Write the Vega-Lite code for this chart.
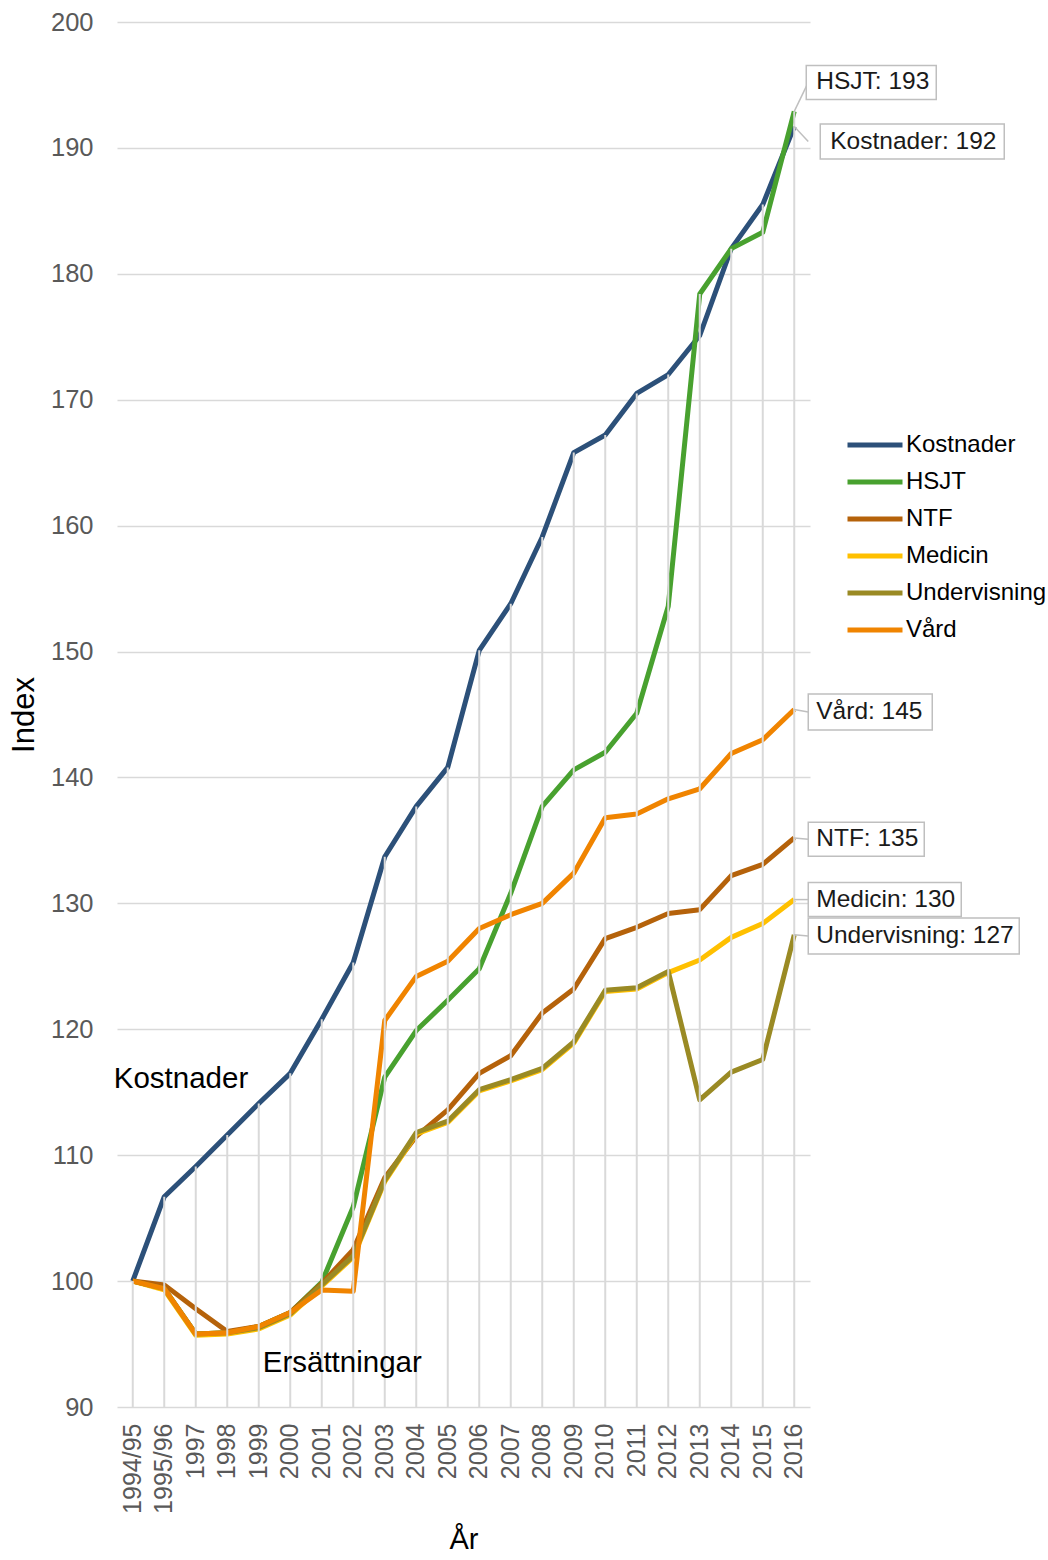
{
  "$schema": "https://vega.github.io/schema/vega-lite/v6.json",
  "width": 693,
  "height": 1385,
  "autosize": {"type": "none"},
  "padding": {"left": 117, "top": 22, "right": 238, "bottom": 153},
  "background": "white",
  "config": {"font": "Liberation Sans", "view": {"stroke": null}},
  "datasets": {
    "series": [
      {"serie": "Kostnader", "year": "1994/95", "value": 100},
      {"serie": "Kostnader", "year": "1995/96", "value": 106.7},
      {"serie": "Kostnader", "year": "1997", "value": 109.1},
      {"serie": "Kostnader", "year": "1998", "value": 111.6},
      {"serie": "Kostnader", "year": "1999", "value": 114.1},
      {"serie": "Kostnader", "year": "2000", "value": 116.5},
      {"serie": "Kostnader", "year": "2001", "value": 120.8},
      {"serie": "Kostnader", "year": "2002", "value": 125.3},
      {"serie": "Kostnader", "year": "2003", "value": 133.7},
      {"serie": "Kostnader", "year": "2004", "value": 137.7},
      {"serie": "Kostnader", "year": "2005", "value": 140.8},
      {"serie": "Kostnader", "year": "2006", "value": 150.1},
      {"serie": "Kostnader", "year": "2007", "value": 153.8},
      {"serie": "Kostnader", "year": "2008", "value": 159.1},
      {"serie": "Kostnader", "year": "2009", "value": 165.8},
      {"serie": "Kostnader", "year": "2010", "value": 167.2},
      {"serie": "Kostnader", "year": "2011", "value": 170.5},
      {"serie": "Kostnader", "year": "2012", "value": 172.0},
      {"serie": "Kostnader", "year": "2013", "value": 175.1},
      {"serie": "Kostnader", "year": "2014", "value": 182.0},
      {"serie": "Kostnader", "year": "2015", "value": 185.5},
      {"serie": "Kostnader", "year": "2016", "value": 191.7},
      {"serie": "HSJT", "year": "1994/95", "value": 100},
      {"serie": "HSJT", "year": "1995/96", "value": 99.4},
      {"serie": "HSJT", "year": "1997", "value": 95.8},
      {"serie": "HSJT", "year": "1998", "value": 95.9},
      {"serie": "HSJT", "year": "1999", "value": 96.4},
      {"serie": "HSJT", "year": "2000", "value": 97.5},
      {"serie": "HSJT", "year": "2001", "value": 99.9},
      {"serie": "HSJT", "year": "2002", "value": 105.9},
      {"serie": "HSJT", "year": "2003", "value": 116.2},
      {"serie": "HSJT", "year": "2004", "value": 119.9},
      {"serie": "HSJT", "year": "2005", "value": 122.3},
      {"serie": "HSJT", "year": "2006", "value": 124.8},
      {"serie": "HSJT", "year": "2007", "value": 130.8},
      {"serie": "HSJT", "year": "2008", "value": 137.7},
      {"serie": "HSJT", "year": "2009", "value": 140.6},
      {"serie": "HSJT", "year": "2010", "value": 142.0},
      {"serie": "HSJT", "year": "2011", "value": 145.1},
      {"serie": "HSJT", "year": "2012", "value": 153.6},
      {"serie": "HSJT", "year": "2013", "value": 178.4},
      {"serie": "HSJT", "year": "2014", "value": 182.0},
      {"serie": "HSJT", "year": "2015", "value": 183.3},
      {"serie": "HSJT", "year": "2016", "value": 192.9},
      {"serie": "NTF", "year": "1994/95", "value": 100},
      {"serie": "NTF", "year": "1995/96", "value": 99.7},
      {"serie": "NTF", "year": "1997", "value": 97.8},
      {"serie": "NTF", "year": "1998", "value": 96.0},
      {"serie": "NTF", "year": "1999", "value": 96.4},
      {"serie": "NTF", "year": "2000", "value": 97.5},
      {"serie": "NTF", "year": "2001", "value": 99.8},
      {"serie": "NTF", "year": "2002", "value": 102.5},
      {"serie": "NTF", "year": "2003", "value": 108.2},
      {"serie": "NTF", "year": "2004", "value": 111.5},
      {"serie": "NTF", "year": "2005", "value": 113.6},
      {"serie": "NTF", "year": "2006", "value": 116.5},
      {"serie": "NTF", "year": "2007", "value": 117.9},
      {"serie": "NTF", "year": "2008", "value": 121.3},
      {"serie": "NTF", "year": "2009", "value": 123.2},
      {"serie": "NTF", "year": "2010", "value": 127.2},
      {"serie": "NTF", "year": "2011", "value": 128.1},
      {"serie": "NTF", "year": "2012", "value": 129.2},
      {"serie": "NTF", "year": "2013", "value": 129.5},
      {"serie": "NTF", "year": "2014", "value": 132.2},
      {"serie": "NTF", "year": "2015", "value": 133.1},
      {"serie": "NTF", "year": "2016", "value": 135.2},
      {"serie": "Medicin", "year": "1994/95", "value": 100},
      {"serie": "Medicin", "year": "1995/96", "value": 99.3},
      {"serie": "Medicin", "year": "1997", "value": 95.7},
      {"serie": "Medicin", "year": "1998", "value": 95.8},
      {"serie": "Medicin", "year": "1999", "value": 96.2},
      {"serie": "Medicin", "year": "2000", "value": 97.3},
      {"serie": "Medicin", "year": "2001", "value": 99.6},
      {"serie": "Medicin", "year": "2002", "value": 101.9},
      {"serie": "Medicin", "year": "2003", "value": 107.9},
      {"serie": "Medicin", "year": "2004", "value": 111.7},
      {"serie": "Medicin", "year": "2005", "value": 112.6},
      {"serie": "Medicin", "year": "2006", "value": 115.1},
      {"serie": "Medicin", "year": "2007", "value": 115.9},
      {"serie": "Medicin", "year": "2008", "value": 116.8},
      {"serie": "Medicin", "year": "2009", "value": 118.9},
      {"serie": "Medicin", "year": "2010", "value": 123.0},
      {"serie": "Medicin", "year": "2011", "value": 123.2},
      {"serie": "Medicin", "year": "2012", "value": 124.5},
      {"serie": "Medicin", "year": "2013", "value": 125.5},
      {"serie": "Medicin", "year": "2014", "value": 127.3},
      {"serie": "Medicin", "year": "2015", "value": 128.4},
      {"serie": "Medicin", "year": "2016", "value": 130.3},
      {"serie": "Undervisning", "year": "1994/95", "value": 100},
      {"serie": "Undervisning", "year": "1995/96", "value": 99.4},
      {"serie": "Undervisning", "year": "1997", "value": 95.8},
      {"serie": "Undervisning", "year": "1998", "value": 95.9},
      {"serie": "Undervisning", "year": "1999", "value": 96.3},
      {"serie": "Undervisning", "year": "2000", "value": 97.4},
      {"serie": "Undervisning", "year": "2001", "value": 99.7},
      {"serie": "Undervisning", "year": "2002", "value": 102.0},
      {"serie": "Undervisning", "year": "2003", "value": 108.0},
      {"serie": "Undervisning", "year": "2004", "value": 111.8},
      {"serie": "Undervisning", "year": "2005", "value": 112.7},
      {"serie": "Undervisning", "year": "2006", "value": 115.2},
      {"serie": "Undervisning", "year": "2007", "value": 116.0},
      {"serie": "Undervisning", "year": "2008", "value": 116.9},
      {"serie": "Undervisning", "year": "2009", "value": 119.0},
      {"serie": "Undervisning", "year": "2010", "value": 123.1},
      {"serie": "Undervisning", "year": "2011", "value": 123.3},
      {"serie": "Undervisning", "year": "2012", "value": 124.6},
      {"serie": "Undervisning", "year": "2013", "value": 114.4},
      {"serie": "Undervisning", "year": "2014", "value": 116.6},
      {"serie": "Undervisning", "year": "2015", "value": 117.6},
      {"serie": "Undervisning", "year": "2016", "value": 127.5},
      {"serie": "Vård", "year": "1994/95", "value": 100},
      {"serie": "Vård", "year": "1995/96", "value": 99.4},
      {"serie": "Vård", "year": "1997", "value": 95.8},
      {"serie": "Vård", "year": "1998", "value": 95.9},
      {"serie": "Vård", "year": "1999", "value": 96.4},
      {"serie": "Vård", "year": "2000", "value": 97.5},
      {"serie": "Vård", "year": "2001", "value": 99.3},
      {"serie": "Vård", "year": "2002", "value": 99.2},
      {"serie": "Vård", "year": "2003", "value": 120.7},
      {"serie": "Vård", "year": "2004", "value": 124.2},
      {"serie": "Vård", "year": "2005", "value": 125.4},
      {"serie": "Vård", "year": "2006", "value": 128.0},
      {"serie": "Vård", "year": "2007", "value": 129.1},
      {"serie": "Vård", "year": "2008", "value": 130.0},
      {"serie": "Vård", "year": "2009", "value": 132.4},
      {"serie": "Vård", "year": "2010", "value": 136.8},
      {"serie": "Vård", "year": "2011", "value": 137.1},
      {"serie": "Vård", "year": "2012", "value": 138.3},
      {"serie": "Vård", "year": "2013", "value": 139.1},
      {"serie": "Vård", "year": "2014", "value": 141.9},
      {"serie": "Vård", "year": "2015", "value": 143.0},
      {"serie": "Vård", "year": "2016", "value": 145.4}
    ],
    "callouts": [
      {"serie": "HSJT", "year": "2016", "value": 192.9, "labelY": 195.2, "label": "HSJT: 193"},
      {"serie": "Kostnader", "year": "2016", "value": 191.7, "labelY": 190.5, "label": "Kostnader: 192"},
      {"serie": "Vård", "year": "2016", "value": 145.4, "labelY": 145.2, "label": "Vård: 145"},
      {"serie": "NTF", "year": "2016", "value": 135.2, "labelY": 135.1, "label": "NTF: 135"},
      {"serie": "Medicin", "year": "2016", "value": 130.3, "labelY": 130.3, "label": "Medicin: 130"},
      {"serie": "Undervisning", "year": "2016", "value": 127.5, "labelY": 127.4, "label": "Undervisning: 127"}
    ],
    "notes": [
      {"year": "1994/95", "value": 116.05, "text": "Kostnader"},
      {"year": "1999", "value": 93.5, "text": "Ersättningar"}
    ]
  },
  "layer": [
    {
      "data": {"name": "series"},
      "mark": {"type": "line", "strokeWidth": 5, "strokeJoin": "round"},
      "encoding": {
        "x": {
          "field": "year", "type": "ordinal",
          "sort": ["1994/95","1995/96","1997","1998","1999","2000","2001","2002","2003","2004","2005","2006","2007","2008","2009","2010","2011","2012","2013","2014","2015","2016"],
          "axis": {"title": "År", "titleFontSize": 29, "titleFontWeight": "normal", "titleColor": "black", "titlePadding": 12, "labelAngle": -90, "labelFontSize": 25, "labelColor": "#595959", "labelPadding": 16, "ticks": false, "domain": false, "grid": false}
        },
        "y": {
          "field": "value", "type": "quantitative",
          "scale": {"domain": [90, 200], "zero": false, "nice": false},
          "axis": {"title": "Index", "titleFontSize": 31, "titleFontWeight": "normal", "titleColor": "black", "titlePadding": 10, "values": [90,100,110,120,130,140,150,160,170,180,190,200], "labelFontSize": 25.5, "labelColor": "#595959", "labelPadding": 24, "ticks": false, "domain": false, "gridColor": "#d9d9d9", "gridWidth": 1.5}
        },
        "color": {
          "field": "serie", "type": "nominal",
          "scale": {"domain": ["Kostnader","HSJT","NTF","Medicin","Undervisning","Vård"], "range": ["#2c5079","#48a12f","#b5620a","#ffc000","#9a8a24","#f08400"]},
          "legend": {"title": null, "orient": "none", "legendX": 728, "legendY": 410, "symbolType": "stroke", "symbolSize": 3025, "symbolStrokeWidth": 5, "labelFontSize": 24, "labelColor": "black", "labelOffset": 1, "clipHeight": 26, "rowPadding": 11}
        }
      }
    },
    {
      "data": {"name": "series"},
      "transform": [{"aggregate": [{"op": "max", "field": "value", "as": "top"}], "groupby": ["year"]}],
      "mark": {"type": "rule", "color": "#d9d9d9", "strokeWidth": 2},
      "encoding": {
        "x": {"field": "year", "type": "ordinal", "sort": ["1994/95","1995/96","1997","1998","1999","2000","2001","2002","2003","2004","2005","2006","2007","2008","2009","2010","2011","2012","2013","2014","2015","2016"]},
        "y": {"field": "top", "type": "quantitative"},
        "y2": {"datum": 90}
      }
    },
    {
      "data": {"name": "callouts"},
      "mark": {"type": "rule", "color": "#bfbfbf", "strokeWidth": 1.5, "x2Offset": 14},
      "encoding": {
        "x": {"field": "year", "type": "ordinal", "sort": ["1994/95","1995/96","1997","1998","1999","2000","2001","2002","2003","2004","2005","2006","2007","2008","2009","2010","2011","2012","2013","2014","2015","2016"]},
        "x2": {"field": "year"},
        "y": {"field": "value", "type": "quantitative"},
        "y2": {"field": "labelY"}
      }
    },
    {
      "data": {"name": "callouts"},
      "transform": [{"filter": "datum.serie === 'HSJT'"}],
      "mark": {"type": "rect", "width": 130, "height": 34, "xOffset": 77, "fill": "white", "stroke": "#bfbfbf", "strokeWidth": 1.5},
      "encoding": {
        "x": {"field": "year", "type": "ordinal", "sort": ["1994/95","1995/96","1997","1998","1999","2000","2001","2002","2003","2004","2005","2006","2007","2008","2009","2010","2011","2012","2013","2014","2015","2016"]},
        "y": {"field": "labelY", "type": "quantitative"}
      }
    },
    {
      "data": {"name": "callouts"},
      "transform": [{"filter": "datum.serie === 'Kostnader'"}],
      "mark": {"type": "rect", "width": 184, "height": 35, "xOffset": 118, "fill": "white", "stroke": "#bfbfbf", "strokeWidth": 1.5},
      "encoding": {
        "x": {"field": "year", "type": "ordinal", "sort": ["1994/95","1995/96","1997","1998","1999","2000","2001","2002","2003","2004","2005","2006","2007","2008","2009","2010","2011","2012","2013","2014","2015","2016"]},
        "y": {"field": "labelY", "type": "quantitative"}
      }
    },
    {
      "data": {"name": "callouts"},
      "transform": [{"filter": "datum.serie === 'Vård'"}],
      "mark": {"type": "rect", "width": 124, "height": 36, "xOffset": 76, "fill": "white", "stroke": "#bfbfbf", "strokeWidth": 1.5},
      "encoding": {
        "x": {"field": "year", "type": "ordinal", "sort": ["1994/95","1995/96","1997","1998","1999","2000","2001","2002","2003","2004","2005","2006","2007","2008","2009","2010","2011","2012","2013","2014","2015","2016"]},
        "y": {"field": "labelY", "type": "quantitative"}
      }
    },
    {
      "data": {"name": "callouts"},
      "transform": [{"filter": "datum.serie === 'NTF'"}],
      "mark": {"type": "rect", "width": 116, "height": 34, "xOffset": 72, "fill": "white", "stroke": "#bfbfbf", "strokeWidth": 1.5},
      "encoding": {
        "x": {"field": "year", "type": "ordinal", "sort": ["1994/95","1995/96","1997","1998","1999","2000","2001","2002","2003","2004","2005","2006","2007","2008","2009","2010","2011","2012","2013","2014","2015","2016"]},
        "y": {"field": "labelY", "type": "quantitative"}
      }
    },
    {
      "data": {"name": "callouts"},
      "transform": [{"filter": "datum.serie === 'Medicin'"}],
      "mark": {"type": "rect", "width": 153, "height": 34, "xOffset": 90.5, "fill": "white", "stroke": "#bfbfbf", "strokeWidth": 1.5},
      "encoding": {
        "x": {"field": "year", "type": "ordinal", "sort": ["1994/95","1995/96","1997","1998","1999","2000","2001","2002","2003","2004","2005","2006","2007","2008","2009","2010","2011","2012","2013","2014","2015","2016"]},
        "y": {"field": "labelY", "type": "quantitative"}
      }
    },
    {
      "data": {"name": "callouts"},
      "transform": [{"filter": "datum.serie === 'Undervisning'"}],
      "mark": {"type": "rect", "width": 211, "height": 36, "xOffset": 119.5, "fill": "white", "stroke": "#bfbfbf", "strokeWidth": 1.5},
      "encoding": {
        "x": {"field": "year", "type": "ordinal", "sort": ["1994/95","1995/96","1997","1998","1999","2000","2001","2002","2003","2004","2005","2006","2007","2008","2009","2010","2011","2012","2013","2014","2015","2016"]},
        "y": {"field": "labelY", "type": "quantitative"}
      }
    },
    {
      "data": {"name": "callouts"},
      "transform": [{"filter": "datum.serie !== 'Kostnader'"}],
      "mark": {"type": "text", "align": "left", "baseline": "middle", "dx": 22, "fontSize": 24.5, "color": "#1a1a1a"},
      "encoding": {
        "x": {"field": "year", "type": "ordinal", "sort": ["1994/95","1995/96","1997","1998","1999","2000","2001","2002","2003","2004","2005","2006","2007","2008","2009","2010","2011","2012","2013","2014","2015","2016"]},
        "y": {"field": "labelY", "type": "quantitative"},
        "text": {"field": "label"}
      }
    },
    {
      "data": {"name": "callouts"},
      "transform": [{"filter": "datum.serie === 'Kostnader'"}],
      "mark": {"type": "text", "align": "left", "baseline": "middle", "dx": 36, "fontSize": 24.5, "color": "#1a1a1a"},
      "encoding": {
        "x": {"field": "year", "type": "ordinal", "sort": ["1994/95","1995/96","1997","1998","1999","2000","2001","2002","2003","2004","2005","2006","2007","2008","2009","2010","2011","2012","2013","2014","2015","2016"]},
        "y": {"field": "labelY", "type": "quantitative"},
        "text": {"field": "label"}
      }
    },
    {
      "data": {"name": "notes"},
      "transform": [{"filter": "datum.text === 'Kostnader'"}],
      "mark": {"type": "text", "align": "left", "baseline": "middle", "dx": -19, "fontSize": 29.5, "color": "black"},
      "encoding": {
        "x": {"field": "year", "type": "ordinal", "sort": ["1994/95","1995/96","1997","1998","1999","2000","2001","2002","2003","2004","2005","2006","2007","2008","2009","2010","2011","2012","2013","2014","2015","2016"]},
        "y": {"field": "value", "type": "quantitative"},
        "text": {"field": "text"}
      }
    },
    {
      "data": {"name": "notes"},
      "transform": [{"filter": "datum.text === 'Ersättningar'"}],
      "mark": {"type": "text", "align": "left", "baseline": "middle", "dx": 4, "fontSize": 29.5, "color": "black"},
      "encoding": {
        "x": {"field": "year", "type": "ordinal", "sort": ["1994/95","1995/96","1997","1998","1999","2000","2001","2002","2003","2004","2005","2006","2007","2008","2009","2010","2011","2012","2013","2014","2015","2016"]},
        "y": {"field": "value", "type": "quantitative"},
        "text": {"field": "text"}
      }
    }
  ]
}
